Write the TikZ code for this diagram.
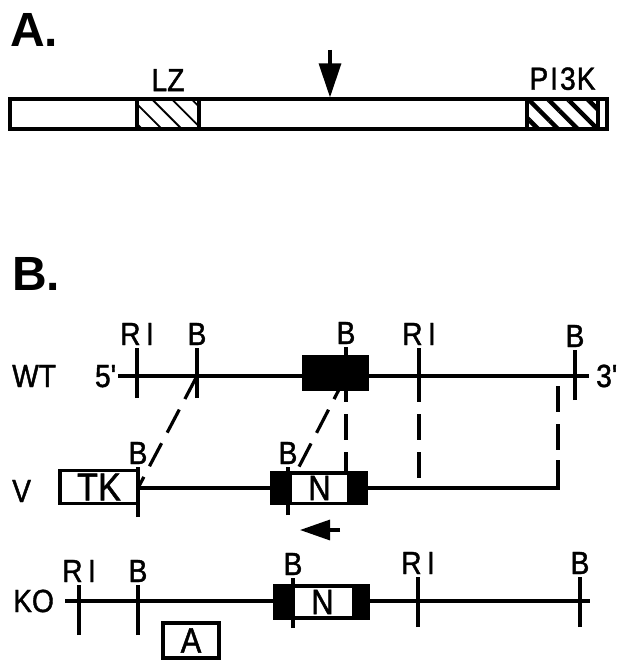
\documentclass[tikz,border=0pt]{standalone}
\usepackage{fontspec}
\setmainfont{Liberation Sans}
\newfontfamily\lblface{Liberation Sans}[FakeBold=1.3, FakeStretch=0.88]
\usetikzlibrary{positioning,arrows.meta,patterns.meta}
\newcommand{\lblfont}{\lblface\fontsize{32}{38}\selectfont}
\newcommand{\boxfont}{\lblface\fontsize{35}{42}\selectfont}
\newcommand{\tkfont}{\lblface\fontsize{39}{46}\selectfont}
\newcommand{\panelfont}{\fontsize{48}{56}\selectfont\bfseries}
\tikzset{
    panel/.style={font=\panelfont, inner sep=0pt, anchor=base west},
    rowlabel/.style={font=\lblfont, inner sep=0pt, anchor=base west},
    site/.style={font=\lblfont, inner sep=0pt, anchor=base, yshift=3pt},
    domlabel/.style={font=\lblfont, inner sep=0pt, anchor=base, yshift=7pt},
    dna/.style={line width=3.2pt},
    sitetick/.style={line width=3.2pt},
    homol/.style={line width=3.2pt, dash pattern=on 26pt off 12pt},
    protbox/.style={draw, line width=3.2pt, minimum height=30pt, inner sep=0pt},
    hatchthin/.style={pattern={Lines[angle=-45, distance=14pt, line width=1.8pt]}},
    hatchthick/.style={pattern={Lines[angle=-45, distance=14pt, line width=4.5pt]}},
    exon/.style={draw, fill=black, line width=3.2pt, inner sep=0pt},
    neo/.style={fill=white, inner sep=0pt, font=\boxfont},
    marker/.style={draw, fill=white, line width=3.2pt, inner sep=0pt, font=\boxfont},
    pointer/.style={line width=3.2pt, -{Triangle[length=34pt, width=22pt]}}
}

\begin{document}
\begin{tikzpicture}[x=1pt, y=-1pt]
\useasboundingbox (0,0) rectangle (621,660);

% A. protein with domains
\node[panel] (labA) at (10,47) {A.};
\node[protbox, minimum width=597pt] (prot) at (308.5,114) {};
\node[protbox, hatchthin, minimum width=62pt] (lz) at (168,114) {};
\node[protbox, hatchthick, minimum width=71pt] (pi3k) at (562.5,114) {};
\node[domlabel] at (lz.north) {LZ};
\node[domlabel] at (pi3k.north) {P\kern2pt I\kern2pt 3\kern1pt K};
\coordinate (cuttail) at (330,50);
\draw[pointer] (cuttail) -- (cuttail |- prot.north);

% B. targeting scheme
\node[panel] (labB) at (12,290) {B.};
\node[rowlabel] (wt) at (12,387) {WT};
\node[rowlabel] (v) at (12,502) {V};
\node[rowlabel] (ko) at (13,612) {KO};

% sites
\coordinate (wt5) at (118,376);
\coordinate (wt3) at (589,376);
\coordinate (wtR1) at (137,376);
\coordinate (wtB1) at (197,376);
\coordinate (wtB2) at (346,376);
\coordinate (wtR2) at (419,376);
\coordinate (wtB3) at (575,376);
\coordinate (wtarm) at (558,386);
\coordinate (vB1) at (138,488);
\coordinate (vB2) at (288,488);
\coordinate (vend) at (558,488);
\coordinate (vtop) at (558,460);
\coordinate (ko5) at (65,601);
\coordinate (ko3) at (590,601);
\coordinate (koR1) at (79,601);
\coordinate (koB1) at (138,601);
\coordinate (koB2) at (293,601);
\coordinate (koR2) at (418,601);
\coordinate (koB3) at (580,601);

% homology between WT and vector
\draw[homol] (wtB1) -- (vB1);
\draw[homol] (wtB2) -- (vB2);
\draw[homol] (wtB2) -- (wtB2 |- vB2);
\draw[homol] (wtR2) -- (wtR2 |- vB2);
\draw[homol] (wtarm) -- (vtop);

% backbones
\draw[dna] (wt5) -- (wt3);
\draw[dna] (vB1) -- (vend) -- (vtop);
\draw[dna] (ko5) -- (ko3);

% boxes
\node[exon, minimum width=63pt, minimum height=32pt] (wtex) at (335.5,373) {};
\node[marker, font=\tkfont, minimum width=78pt, minimum height=33pt] (tk) at (99,487) {TK};
\node[exon, minimum width=94pt, minimum height=31pt] (vneo) at (319,488) {};
\node[neo, minimum width=55pt, minimum height=27pt] (vn) at (319.5,488) {N};
\node[exon, minimum width=93pt, minimum height=32pt] (koneo) at (321.5,602) {};
\node[neo, minimum width=58pt, minimum height=28pt] (kon) at (322.5,602) {N};
\node[marker, minimum width=56pt, minimum height=35pt] (probe) at (191,640.5) {A};

% restriction sites
\draw[sitetick] ([yshift=-22pt]wtR1) -- ([yshift=28pt]wtR1) node[site] {R\,I};
\draw[sitetick] ([yshift=-22pt]wtB1) -- ([yshift=28pt]wtB1) node[site] {B};
\draw[sitetick] ([yshift=-21pt]wtB2) -- ([yshift=29pt]wtB2) node[site] {B};
\draw[sitetick] ([yshift=-22pt]wtR2) -- ([yshift=28pt]wtR2) node[site] {R\,I};
\draw[sitetick] ([yshift=-24pt]wtB3) -- ([yshift=26pt]wtB3) node[site] {B};
\node[rowlabel, anchor=base east] at (117,387) {5\textquotesingle};
\node[rowlabel] at (596,387) {3\textquotesingle};

\draw[sitetick] ([yshift=-29pt]vB1) -- ([yshift=21pt]vB1) node[site] {B};
\draw[sitetick] ([yshift=-27pt]vB2) -- ([yshift=21pt]vB2) node[site] {B};

\draw[sitetick] ([yshift=-34pt]koR1) -- ([yshift=16pt]koR1) node[site] {R\,I};
\draw[sitetick] ([yshift=-34pt]koB1) -- ([yshift=16pt]koB1) node[site] {B};
\draw[sitetick] ([yshift=-27pt]koB2) -- ([yshift=23pt]koB2) node[site] {B};
\draw[sitetick] ([yshift=-26pt]koR2) -- ([yshift=24pt]koR2) node[site] {R\,I};
\draw[sitetick] ([yshift=-26pt]koB3) -- ([yshift=24pt]koB3) node[site] {B};

% orientation of neo
\coordinate (dirtail) at (340,530);
\coordinate (dirhead) at (300,530);
\draw[line width=3.2pt, -{Triangle[length=30pt, width=20pt]}] (dirtail) -- (dirhead);

\end{tikzpicture}
\end{document}
